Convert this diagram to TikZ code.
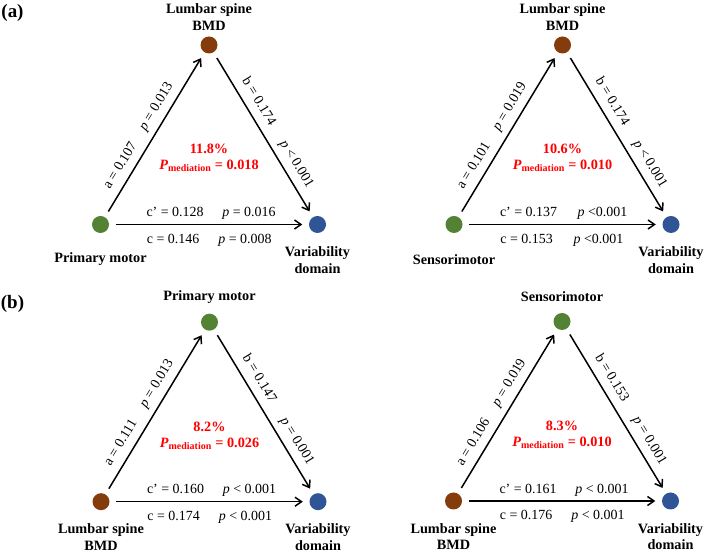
\documentclass[tikz,border=0pt]{standalone}
\usepackage{fontspec}
\setmainfont{Liberation Serif}
\usepackage{xcolor}
\usetikzlibrary{arrows.meta}

\definecolor{mgreen}{HTML}{548235}
\definecolor{mbrown}{HTML}{843C0C}
\definecolor{mblue}{HTML}{2F5597}

\tikzset{
	dot/.style={circle, minimum size=17bp, inner sep=0pt},
	link/.style={line width=1.5bp, -{Straight Barb[length=6.5bp,width=9bp]}, shorten <=6.5bp, shorten >=6.5bp},
	coef/.style={font=\fontsize{14}{16}\selectfont, text height=10bp, text depth=3bp, inner sep=1bp},
	lbl/.style={font=\fontsize{14.3}{16.7}\selectfont\bfseries, align=center},
	med/.style={font=\fontsize{14.3}{16}\selectfont\bfseries, text=red, align=center},
	tag/.style={font=\fontsize{19}{22}\selectfont\bfseries}
}

\begin{document}
\begin{tikzpicture}[x=1bp, y=1bp]
		\useasboundingbox (0,0) rectangle (708,554);
		
		\node[tag] (taga) at (12.5,541.5) {(a)};
		\node[tag] (tagb) at (12.5,250) {(b)};
		
		% (a) left
		\begin{scope}[shift={(100.5,329.5)}]
			\node[dot, fill=mbrown] (a1t) at (108.5,179.5) {};
			\node[dot, fill=mgreen] (a1l) at (0,0) {};
			\node[dot, fill=mblue] (a1r) at (217,0) {};
			\node[lbl] (a1tl) at (108.5,207.5) {Lumbar spine\\BMD};
			\node[lbl] (a1ll) at (0,-35) {Primary motor};
			\node[lbl] (a1rl) at (217,-35.5) {Variability\\domain};
			\node[med] (a1m) at (108.5,66.5) {11.8\%\\\textit{P}\textsubscript{mediation} = 0.018};
			\draw[link] (a1l) -- node[coef, sloped, above=5bp, pos=0.27] (a1a) {a = 0.107}
				node[coef, sloped, above=5bp, pos=0.63] (a1pa) {\textit{p} = 0.013} (a1t);
			\draw[link] (a1t) -- node[coef, sloped, above=5bp, pos=0.34] (a1b) {b = 0.174}
				node[coef, sloped, above=5bp, pos=0.72] (a1pb) {\textit{p} < 0.001} (a1r);
			\draw[link] (a1l) -- node[coef, above=3bp, pos=0.33] (a1c1) {c’ = 0.128}
				node[coef, above=3bp, pos=0.70] (a1pc1) {\textit{p} = 0.016}
				node[coef, below=7bp, pos=0.32] (a1c) {c = 0.146}
				node[coef, below=7bp, pos=0.68] (a1pc) {\textit{p} = 0.008} (a1r);
		\end{scope}
		
		% (a) right
		\begin{scope}[shift={(454,329.5)}]
			\node[dot, fill=mbrown] (a2t) at (108.5,179.5) {};
			\node[dot, fill=mgreen] (a2l) at (0,0) {};
			\node[dot, fill=mblue] (a2r) at (217,0) {};
			\node[lbl] (a2tl) at (108.5,207.5) {Lumbar spine\\BMD};
			\node[lbl] (a2ll) at (0,-35) {Sensorimotor};
			\node[lbl] (a2rl) at (217,-35.5) {Variability\\domain};
			\node[med] (a2m) at (108.5,66.5) {10.6\%\\\textit{P}\textsubscript{mediation} = 0.010};
			\draw[link] (a2l) -- node[coef, sloped, above=5bp, pos=0.27] (a2a) {a = 0.101}
				node[coef, sloped, above=5bp, pos=0.63] (a2pa) {\textit{p} = 0.019} (a2t);
			\draw[link] (a2t) -- node[coef, sloped, above=5bp, pos=0.34] (a2b) {b = 0.174}
				node[coef, sloped, above=5bp, pos=0.72] (a2pb) {\textit{p} < 0.001} (a2r);
			\draw[link] (a2l) -- node[coef, above=3bp, pos=0.33] (a2c1) {c’ = 0.137}
				node[coef, above=3bp, pos=0.70] (a2pc1) {\textit{p} <0.001}
				node[coef, below=7bp, pos=0.32] (a2c) {c = 0.153}
				node[coef, below=7bp, pos=0.68] (a2pc) {\textit{p} <0.001} (a2r);
		\end{scope}
		
		% (b) left
		\begin{scope}[shift={(101,52.3)}]
			\node[dot, fill=mgreen] (b1t) at (108.5,179.5) {};
			\node[dot, fill=mbrown] (b1l) at (0,0) {};
			\node[dot, fill=mblue] (b1r) at (217,0) {};
			\node[lbl] (b1tl) at (108.5,204.5) {Primary motor};
			\node[lbl] (b1ll) at (0,-35.5) {Lumbar spine\\BMD};
			\node[lbl] (b1rl) at (217,-35.5) {Variability\\domain};
			\node[med] (b1m) at (108.5,66) {8.2\%\\\textit{P}\textsubscript{mediation} = 0.026};
			\draw[link] (b1l) -- node[coef, sloped, above=5bp, pos=0.27] (b1a) {a = 0.111}
				node[coef, sloped, above=5bp, pos=0.63] (b1pa) {\textit{p} = 0.013} (b1t);
			\draw[link] (b1t) -- node[coef, sloped, above=5bp, pos=0.34] (b1b) {b = 0.147}
				node[coef, sloped, above=5bp, pos=0.72] (b1pb) {\textit{p} = 0.001} (b1r);
			\draw[link] (b1l) -- node[coef, above=3bp, pos=0.33] (b1c1) {c’ = 0.160}
				node[coef, above=3bp, pos=0.70] (b1pc1) {\textit{p} < 0.001}
				node[coef, below=7bp, pos=0.32] (b1c) {c = 0.174}
				node[coef, below=7bp, pos=0.68] (b1pc) {\textit{p} < 0.001} (b1r);
		\end{scope}
		
		% (b) right
		\begin{scope}[shift={(453.5,53)}]
			\node[dot, fill=mgreen] (b2t) at (108.5,179.5) {};
			\node[dot, fill=mbrown] (b2l) at (0,0) {};
			\node[dot, fill=mblue] (b2r) at (217,0) {};
			\node[lbl] (b2tl) at (108.5,204.5) {Sensorimotor};
			\node[lbl] (b2ll) at (0,-35.5) {Lumbar spine\\BMD};
			\node[lbl] (b2rl) at (217,-35.5) {Variability\\domain};
			\node[med] (b2m) at (108.5,66) {8.3\%\\\textit{P}\textsubscript{mediation} = 0.010};
			\draw[link] (b2l) -- node[coef, sloped, above=5bp, pos=0.27] (b2a) {a = 0.106}
				node[coef, sloped, above=5bp, pos=0.63] (b2pa) {\textit{p} = 0.019} (b2t);
			\draw[link] (b2t) -- node[coef, sloped, above=5bp, pos=0.34] (b2b) {b = 0.153}
				node[coef, sloped, above=5bp, pos=0.72] (b2pb) {\textit{p} = 0.001} (b2r);
			\draw[link] (b2l) -- node[coef, above=3bp, pos=0.33] (b2c1) {c’ = 0.161}
				node[coef, above=3bp, pos=0.70] (b2pc1) {\textit{p} < 0.001}
				node[coef, below=7bp, pos=0.32] (b2c) {c = 0.176}
				node[coef, below=7bp, pos=0.68] (b2pc) {\textit{p} < 0.001} (b2r);
		\end{scope}
	\end{tikzpicture}
\end{document}
